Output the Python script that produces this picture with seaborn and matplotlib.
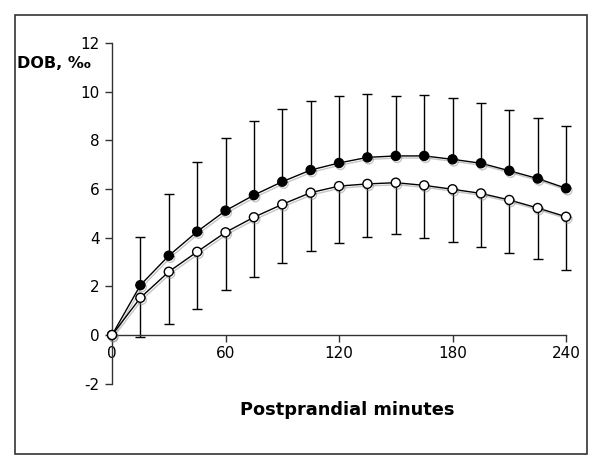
import numpy as np
import pandas as pd
import matplotlib
matplotlib.use("Agg")
import matplotlib.pyplot as plt
import matplotlib.patheffects as pe
from matplotlib.patches import Rectangle
import seaborn as sns

minutes = [0, 15, 30, 45, 60, 75, 90, 105, 120, 135, 150, 165, 180, 195, 210, 225, 240]
filled_mean = [0.0, 2.05, 3.26, 4.25, 5.11, 5.75, 6.30, 6.78, 7.07, 7.30, 7.36, 7.36, 7.22, 7.06, 6.75, 6.43, 6.03]
filled_upper = [0.0, 4.01, 5.78, 7.10, 8.11, 8.81, 9.27, 9.62, 9.83, 9.91, 9.82, 9.86, 9.72, 9.52, 9.24, 8.93, 8.60]
open_mean = [0.0, 1.53, 2.60, 3.42, 4.22, 4.84, 5.37, 5.85, 6.12, 6.21, 6.26, 6.15, 5.99, 5.82, 5.55, 5.22, 4.86]
open_lower = [0.0, -0.07, 0.45, 1.08, 1.84, 2.38, 2.97, 3.45, 3.80, 4.04, 4.14, 4.00, 3.84, 3.60, 3.36, 3.12, 2.67]
x_ticks = [0, 60, 120, 180, 240]
y_ticks = [-2, 0, 2, 4, 6, 8, 10, 12]

sns.set_style("white")
plt.rcParams['font.family'] = ['DejaVu Sans']
plt.rcParams['axes.unicode_minus'] = False

fig = plt.figure(figsize=(6, 4.61), dpi=100)
ax = fig.add_axes([0.1867, 0.1677, 0.7567, 0.739])

df_f = pd.DataFrame({"t": minutes, "v": filled_mean})
df_o = pd.DataFrame({"t": minutes, "v": open_mean})

f_mean = np.array(filled_mean)
o_mean = np.array(open_mean)
up_err = np.array(filled_upper) - f_mean
lo_err = o_mean - np.array(open_lower)
zeros = np.zeros_like(f_mean)

ax.errorbar(minutes, f_mean, yerr=[zeros, up_err], fmt='none', ecolor='black',
            elinewidth=1, capsize=3.5, capthick=1, clip_on=False, zorder=2)
ax.errorbar(minutes, o_mean, yerr=[lo_err, zeros], fmt='none', ecolor='black',
            elinewidth=1, capsize=3.5, capthick=1, clip_on=False, zorder=2)

shadow = [pe.SimpleLineShadow(offset=(1, -1.5), shadow_color='grey', alpha=0.45), pe.Normal()]

sns.lineplot(data=df_f, x="t", y="v", ax=ax, color='black', linewidth=1,
             marker='o', markersize=6.5, markerfacecolor='black', markeredgecolor='black',
             markeredgewidth=1, clip_on=False, zorder=4, path_effects=shadow)
sns.lineplot(data=df_o, x="t", y="v", ax=ax, color='black', linewidth=1,
             marker='o', markersize=6.5, markerfacecolor='white', markeredgecolor='black',
             markeredgewidth=1, clip_on=False, zorder=4, path_effects=shadow)

ax.set_xlim(0, 240)
ax.set_ylim(-2, 12)
ax.set_xticks(x_ticks)
ax.set_yticks(y_ticks)
ax.spines['top'].set_visible(False)
ax.spines['right'].set_visible(False)
ax.spines['bottom'].set_position(('data', 0))
for s in ['left', 'bottom']:
    ax.spines[s].set_color('#333333')
    ax.spines[s].set_linewidth(1)
ax.tick_params(axis='both', direction='out', length=5, width=1, color='#333333',
               labelsize=11, labelcolor='black', left=True, bottom=True)
ax.tick_params(axis='x', pad=3)
ax.tick_params(axis='y', pad=4)
ax.set_xlabel("")
ax.set_ylabel("")

fig.text(0.028, 0.862, "DOB, ‰", fontsize=11.5, fontweight='bold', ha='left', va='center', color='black')
fig.text(0.578, 0.11, "Postprandial minutes", fontsize=12.8, fontweight='bold', ha='center', va='center', color='black')

fig.patches.append(Rectangle((0.025, 0.0152), 0.953, 0.952, transform=fig.transFigure,
                             fill=False, edgecolor='#333333', linewidth=1.2))

fig.savefig("out.png", dpi=100)
